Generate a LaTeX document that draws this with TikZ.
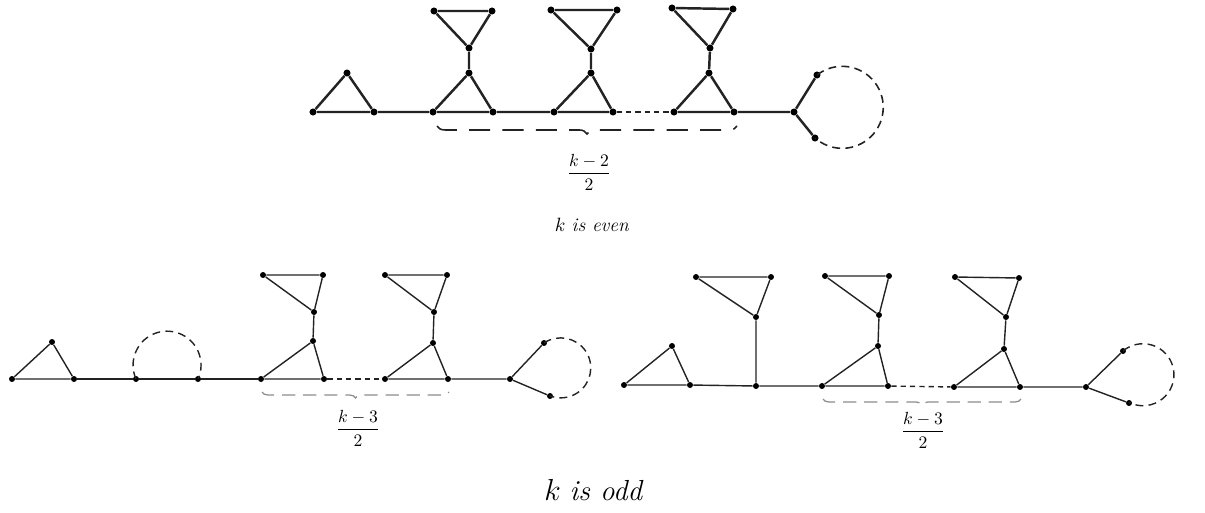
\documentclass[tikz,border=0pt]{standalone}
\usepackage{amsmath, amssymb}
\usepackage{xcolor}
\usepackage{tikz}
\usetikzlibrary{decorations.pathreplacing}
\definecolor{edgegray}{RGB}{35,35,35}
\definecolor{bracegray}{RGB}{140,140,140}

\begin{document}
\begin{tikzpicture}[x=0.02cm, y=-0.02cm]
    \tikzstyle{vtx}=[circle, fill=black, inner sep=0pt, minimum size=4pt]
    \tikzstyle{svtx}=[circle, fill=black, inner sep=0pt, minimum size=3.4pt]
    \tikzstyle{thickedge}=[line width=1.4pt, edgegray]
    \tikzstyle{thinedge}=[line width=0.8pt, edgegray]
    \tikzstyle{gapline}=[dash pattern=on 3pt off 2.3pt]
    \tikzstyle{loopline}=[dash pattern=on 4.5pt off 3pt]
    \tikzstyle{bigbrace}=[decorate, decoration={brace, mirror, amplitude=4.5pt},
      line width=0.9pt, edgegray, dash pattern=on 12pt off 7pt]
    \tikzstyle{smallbrace}=[decorate, decoration={brace, mirror, amplitude=3.4pt},
      line width=0.7pt, bracegray, dash pattern=on 7.5pt off 4.5pt]
    \useasboundingbox (0,0) rectangle (1205,512);

    % k is even
    \node[vtx] (e1) at (313,112) {};
    \node[vtx] (e2) at (347,73) {};
    \node[vtx] (e3) at (374,112) {};
    \node[vtx] (g1l) at (433,112) {};
    \node[vtx] (g1a) at (469,73) {};
    \node[vtx] (g1r) at (493,112) {};
    \node[vtx] (g1b) at (469,48) {};
    \node[vtx] (g1tl) at (434,11) {};
    \node[vtx] (g1tr) at (492,11) {};
    \node[vtx] (g2l) at (554,112) {};
    \node[vtx] (g2a) at (591,73) {};
    \node[vtx] (g2r) at (613,112) {};
    \node[vtx] (g2b) at (591,49) {};
    \node[vtx] (g2tl) at (551,10) {};
    \node[vtx] (g2tr) at (617,10) {};
    \node[vtx] (g3l) at (674,112) {};
    \node[vtx] (g3a) at (709,73) {};
    \node[vtx] (g3r) at (734,112) {};
    \node[vtx] (g3b) at (710,48) {};
    \node[vtx] (g3tl) at (672,8) {};
    \node[vtx] (g3tr) at (733,9) {};
    \node[vtx] (e4) at (794,112) {};
    \node[vtx] (e5) at (817,75) {};
    \node[vtx] (e6) at (815,138) {};
    \draw[thickedge] (e1) -- (e2) -- (e3) -- (e1);
    \draw[thickedge] (e3) -- (g1l) -- (g1r) -- (g1a) -- (g1l);
    \draw[thickedge] (g1a) -- (g1b) -- (g1tl) -- (g1tr) -- (g1b);
    \draw[thickedge] (g1r) -- (g2l) -- (g2r) -- (g2a) -- (g2l);
    \draw[thickedge] (g2a) -- (g2b) -- (g2tl) -- (g2tr) -- (g2b);
    \draw[thickedge, gapline] (g2r) -- (g3l);
    \draw[thickedge] (g3l) -- (g3r) -- (g3a) -- (g3l);
    \draw[thickedge] (g3a) -- (g3b) -- (g3tl) -- (g3tr) -- (g3b);
    \draw[thickedge] (g3r) -- (e4) -- (e5);
    \draw[thickedge] (e4) -- (e6);
    \draw[line width=0.9pt, edgegray, loopline] (e5.center) arc[start angle=-128, end angle=131, radius=41];
    \coordinate (eb1) at (437,126);
    \coordinate (eb2) at (737,126);
    \draw[bigbrace] (eb1) -- (eb2);
    \node (efrac) at (589,172) {$\dfrac{k-2}{2}$};
    \node (even) at (592,225) {\fontsize{11}{13}\selectfont $k$ \textit{is even}};

    % k is odd, left
    \node[svtx] (o1) at (12,379) {};
    \node[svtx] (o2) at (52,342) {};
    \node[svtx] (o3) at (74,379) {};
    \node[svtx] (o4) at (136,379) {};
    \node[svtx] (o5) at (198,379) {};
    \node[svtx] (h1l) at (261,379) {};
    \node[svtx] (h1a) at (313,341) {};
    \node[svtx] (h1r) at (324,379) {};
    \node[svtx] (h1b) at (314,312) {};
    \node[svtx] (h1tl) at (263,275) {};
    \node[svtx] (h1tr) at (323,275) {};
    \node[svtx] (h2l) at (385,379) {};
    \node[svtx] (h2a) at (433,343) {};
    \node[svtx] (h2r) at (448,379) {};
    \node[svtx] (h2b) at (434,312) {};
    \node[svtx] (h2tl) at (385,275) {};
    \node[svtx] (h2tr) at (447,275) {};
    \node[svtx] (o6) at (510,379) {};
    \node[svtx] (o7) at (544,343) {};
    \node[svtx] (o8) at (550,396) {};
    \draw[thinedge] (o1) -- (o2) -- (o3) -- (o1);
    \draw[thinedge] (o3) -- (o4) -- (o5) -- (h1l);
    \draw[line width=0.8pt, edgegray, loopline] (o4.center) arc[start angle=156, end angle=384, radius=34];
    \draw[thinedge] (h1l) -- (h1r) -- (h1a) -- (h1l);
    \draw[thinedge] (h1a) -- (h1b) -- (h1tl) -- (h1tr) -- (h1b);
    \draw[thinedge, gapline] (h1r) -- (h2l);
    \draw[thinedge] (h2l) -- (h2r) -- (h2a) -- (h2l);
    \draw[thinedge] (h2a) -- (h2b) -- (h2tl) -- (h2tr) -- (h2b);
    \draw[thinedge] (h2r) -- (o6) -- (o7);
    \draw[thinedge] (o6) -- (o8);
    \draw[line width=0.8pt, edgegray, loopline] (o7.center) arc[start angle=-124, end angle=112, radius=30];
    \coordinate (ob1) at (262,392);
    \coordinate (ob2) at (449,392);
    \draw[smallbrace] (ob1) -- (ob2);
    \node (ofrac) at (358,428) {$\dfrac{k-3}{2}$};

    % k is odd, right
    \node[svtx] (r1) at (624,385) {};
    \node[svtx] (r2) at (672,346) {};
    \node[svtx] (r3) at (690,385) {};
    \node[svtx] (r4) at (756,386) {};
    \node[svtx] (r5) at (756,317) {};
    \node[svtx] (r5tl) at (696,277) {};
    \node[svtx] (r5tr) at (771,277) {};
    \node[svtx] (k1l) at (822,386) {};
    \node[svtx] (k1a) at (878,346) {};
    \node[svtx] (k1r) at (888,386) {};
    \node[svtx] (k1b) at (879,315) {};
    \node[svtx] (k1tl) at (825,276) {};
    \node[svtx] (k1tr) at (889,276) {};
    \node[svtx] (k2l) at (954,387) {};
    \node[svtx] (k2a) at (1004,349) {};
    \node[svtx] (k2r) at (1020,387) {};
    \node[svtx] (k2b) at (1006,317) {};
    \node[svtx] (k2tl) at (955,277) {};
    \node[svtx] (k2tr) at (1019,278) {};
    \node[svtx] (r6) at (1086,387) {};
    \node[svtx] (r7) at (1123,351) {};
    \node[svtx] (r8) at (1129,403) {};
    \draw[thinedge] (r1) -- (r2) -- (r3) -- (r1);
    \draw[thinedge] (r3) -- (r4) -- (k1l);
    \draw[thinedge] (r4) -- (r5) -- (r5tl) -- (r5tr) -- (r5);
    \draw[thinedge] (k1l) -- (k1r) -- (k1a) -- (k1l);
    \draw[thinedge] (k1a) -- (k1b) -- (k1tl) -- (k1tr) -- (k1b);
    \draw[thinedge, gapline] (k1r) -- (k2l);
    \draw[thinedge] (k2l) -- (k2r) -- (k2a) -- (k2l);
    \draw[thinedge] (k2a) -- (k2b) -- (k2tl) -- (k2tr) -- (k2b);
    \draw[thinedge] (k2r) -- (r6) -- (r7);
    \draw[thinedge] (r6) -- (r8);
    \draw[line width=0.8pt, edgegray, loopline] (r7.center) arc[start angle=-130, end angle=117, radius=31];
    \coordinate (rb1) at (823,399);
    \coordinate (rb2) at (1021,399);
    \draw[smallbrace] (rb1) -- (rb2);
    \node (rfrac) at (923,430) {$\dfrac{k-3}{2}$};

    \node (odd) at (594,490) {\fontsize{16.5}{20}\selectfont $k$ \textit{is odd}};
\end{tikzpicture}
\end{document}
